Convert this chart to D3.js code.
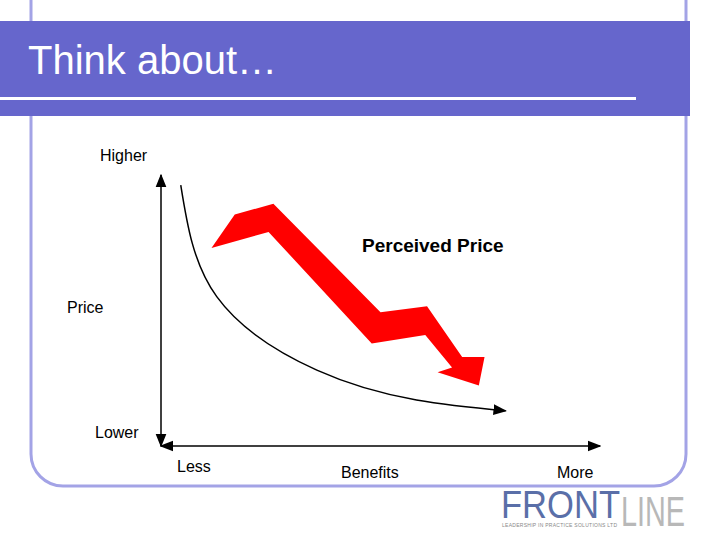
<!DOCTYPE html>
<html>
<head>
<meta charset="utf-8">
<script src="https://cdn.jsdelivr.net/npm/d3@7"></script>
<style>
  body { margin: 0; background: #fff; }
  text { font-family: "Liberation Sans", Arial, sans-serif; }
</style>
</head>
<body>
<div id="chart"></div>
<script>
// benefit (0..10) vs price (0..10)
const curveX = [0.45, 1.27, 3.55, 5.82, 7.85];
const curveY = [9.63, 5.51, 2.8, 1.7, 1.3];
// perceived price arrow outline, same units
const arrowX = [1.15, 1.68, 2.56, 5.0, 6.06, 6.86, 7.37, 7.24, 6.3, 6.63, 6.02, 4.8, 2.45];
const arrowY = [7.31, 8.54, 8.94, 4.94, 5.16, 3.28, 3.28, 2.23, 2.72, 2.9, 4.1, 3.78, 7.9];
const labels = [
  { text: "Higher", x: 100, y: 161, size: 16, bold: false },
  { text: "Perceived Price", x: 362, y: 252, size: 19, bold: true },
  { text: "Price", x: 67, y: 313, size: 16, bold: false },
  { text: "Lower", x: 95, y: 438, size: 16, bold: false },
  { text: "Less", x: 177, y: 472, size: 16, bold: false },
  { text: "Benefits", x: 341, y: 478, size: 16, bold: false },
  { text: "More", x: 557, y: 478, size: 16, bold: false },
];

const svg = d3.select("#chart").append("svg").attr("width", 720).attr("height", 540);

// frame
svg.append("rect").attr("x", 31).attr("y", -40).attr("width", 655).attr("height", 526)
  .attr("rx", 32).attr("fill", "none").attr("stroke", "#a3a3e6").attr("stroke-width", 3);

// header band
svg.append("rect").attr("x", 0).attr("y", 21).attr("width", 690).attr("height", 95).attr("fill", "#6666cc");
svg.append("rect").attr("x", 0).attr("y", 97).attr("width", 636).attr("height", 3).attr("fill", "#fff");
svg.append("text").attr("x", 28).attr("y", 74).attr("fill", "#fff").style("font-size", "40px").text("Think about…");

const x = d3.scaleLinear().domain([0, 10]).range([161, 600]);
const y = d3.scaleLinear().domain([0, 10]).range([446, 175]);

const defs = svg.append("defs");
defs.append("marker").attr("id", "ah").attr("viewBox", "0 0 10 10").attr("refX", 9).attr("refY", 5)
  .attr("markerWidth", 9).attr("markerHeight", 9).attr("orient", "auto-start-reverse")
  .append("path").attr("d", "M0,1L10,5L0,9z").attr("fill", "#000");

// axes
svg.append("line").attr("x1", x(0)).attr("y1", y(0)).attr("x2", x(0)).attr("y2", y(10))
  .attr("stroke", "#000").attr("stroke-width", 1.5)
  .attr("marker-start", "url(#ah)").attr("marker-end", "url(#ah)");
svg.append("line").attr("x1", x(0)).attr("y1", y(0)).attr("x2", x(10)).attr("y2", y(0))
  .attr("stroke", "#000").attr("stroke-width", 1.5)
  .attr("marker-start", "url(#ah)").attr("marker-end", "url(#ah)");

// demand curve
const pts = curveX.map((d, i) => [x(d), y(curveY[i])]);
svg.append("path").attr("d", d3.line().curve(d3.curveNatural)(pts))
  .attr("fill", "none").attr("stroke", "#000").attr("stroke-width", 1.5)
  .attr("marker-end", "url(#ah)");

// perceived price arrow
const apts = arrowX.map((d, i) => [x(d), y(arrowY[i])]);
svg.append("path").attr("d", d3.line()(apts) + "Z").attr("fill", "#ff0000");

svg.selectAll(".lbl").data(labels).join("text").attr("class", "lbl")
  .attr("x", (d) => d.x).attr("y", (d) => d.y)
  .style("font-size", (d) => d.size + "px")
  .style("font-weight", (d) => (d.bold ? "bold" : "normal"))
  .text((d) => d.text);

// logo
svg.append("text").attr("x", 501).attr("y", 518).attr("fill", "#5a6fa8")
  .style("font-size", "38px").attr("textLength", 119).attr("lengthAdjust", "spacingAndGlyphs").text("FRONT");
svg.append("text").attr("x", 621).attr("y", 526).attr("fill", "#b8b8b8")
  .style("font-size", "42px").attr("textLength", 64).attr("lengthAdjust", "spacingAndGlyphs").text("LINE");
svg.append("text").attr("x", 502).attr("y", 527).attr("fill", "#888")
  .style("font-size", "5px").attr("textLength", 115).text("LEADERSHIP IN PRACTICE SOLUTIONS LTD");
</script>
</body>
</html>
